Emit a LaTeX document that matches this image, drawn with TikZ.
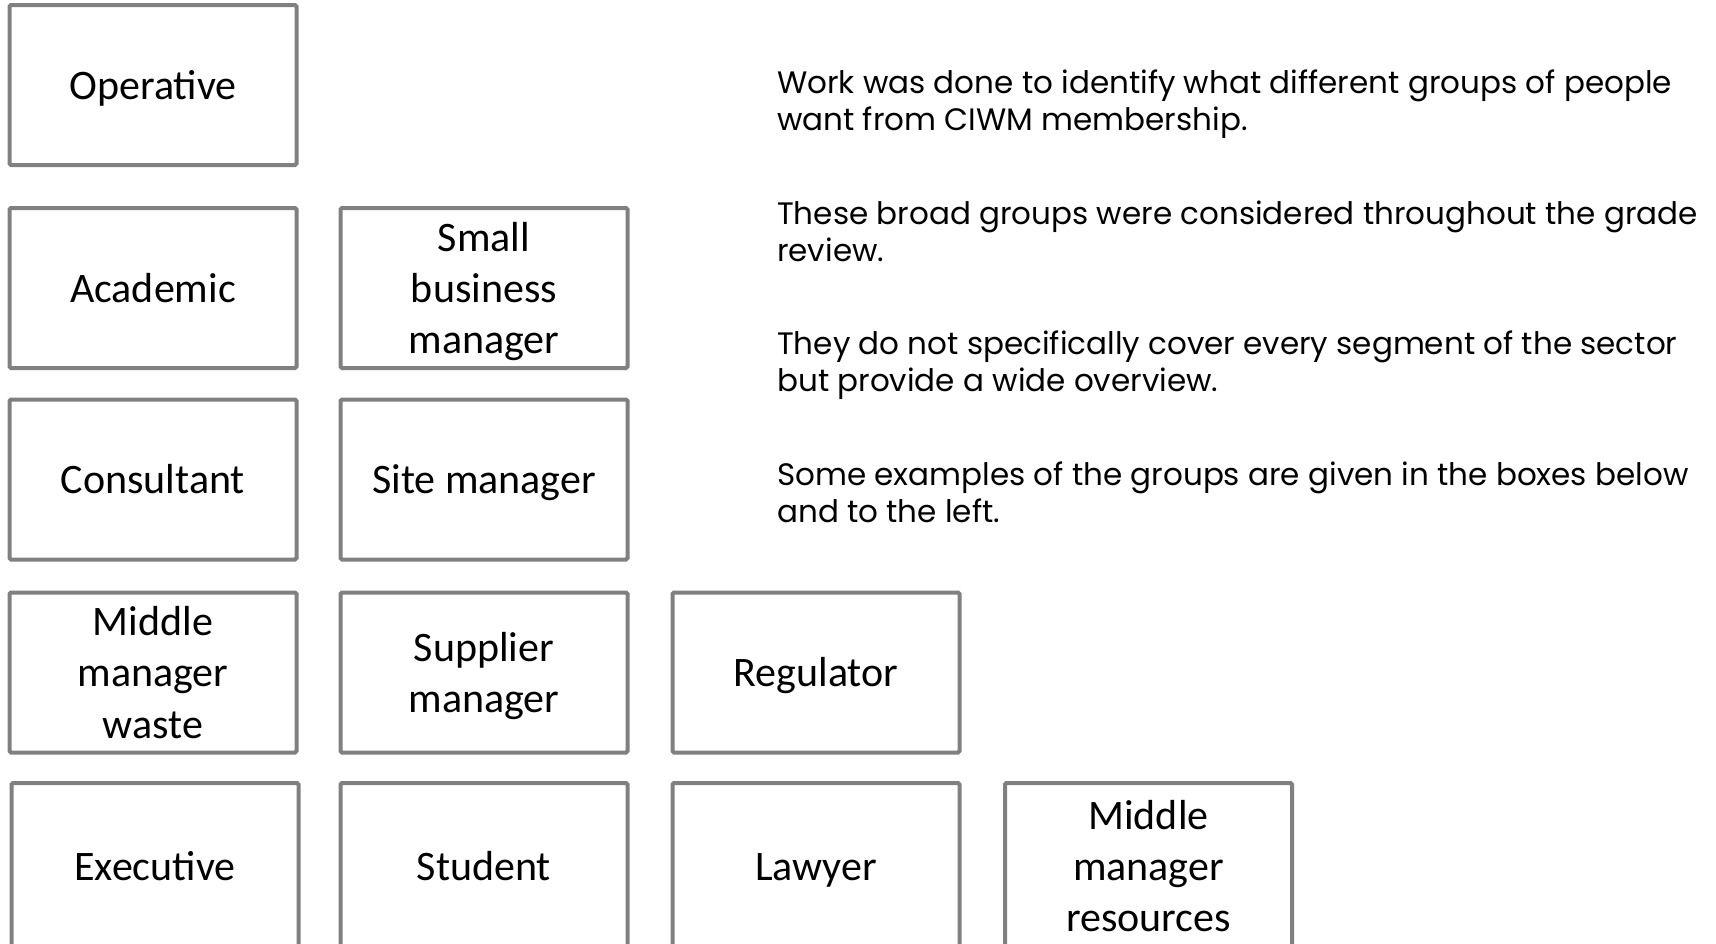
\documentclass[tikz,border=0pt]{standalone}
\usepackage{fontspec}
\setmainfont{Carlito}
\newfontfamily\notefont{Poppins}
\definecolor{boxgray}{RGB}{128,128,128}
\newcommand\boxstrut{\rule[-0.269em]{0pt}{1.221em}}
\begin{document}
\begin{tikzpicture}[x=1pt,y=-1pt,
  grp/.style={draw=boxgray,line width=4pt,rounded corners=1.5pt,fill=white,
    minimum width=287pt,minimum height=160pt,align=center,inner sep=0pt,
    font=\fontsize{42}{51.3}\selectfont,
    execute at begin node=\boxstrut,execute at end node=\boxstrut},
  lastrow/.style={minimum height=166pt},
  note/.style={anchor=base west,align=left,inner sep=0pt,
    font=\notefont\fontsize{31}{37}\selectfont}]
  \useasboundingbox (0,0) rectangle (1716,943);
  \clip (0,0) rectangle (1716,943);
  % first column
  \node (operative) at (153,85) [grp] {Operative};
  \node (academic) at (153,288) [grp] {Academic};
  \node (consultant) at (153,479.5) [grp] {Consultant};
  \node (middlewaste) at (153,672.5) [grp] {\boxstrut Middle\\manager\\waste};
  \node (executive) at (155,866) [grp,lastrow] {Executive};
  % second column
  \node (smallbiz) at (484,288) [grp] {\boxstrut Small\\business\\manager};
  \node (sitemgr) at (484,479.5) [grp] {Site manager};
  \node (supplier) at (484,672.5) [grp] {\boxstrut Supplier\\manager};
  \node (student) at (484,866) [grp,lastrow] {Student};
  % third and fourth column
  \node (regulator) at (816,672.5) [grp] {Regulator};
  \node (lawyer) at (816,866) [grp,lastrow] {Lawyer};
  \node (middleres) at (1148.5,866) [grp,lastrow] {\boxstrut Middle\\manager\\resources};
  % notes on the right (placed by the baseline of their last line)
  \node (note1) at (777,130) [note] {Work was done to identify what different groups of people\\want from CIWM membership.};
  \node (note2) at (777,261) [note] {These broad groups were considered throughout the grade\\review.};
  \node (note3) at (777,391) [note] {They do not specifically cover every segment of the sector\\but provide a wide overview.};
  \node (note4) at (777,522) [note] {Some examples of the groups are given in the boxes below\\and to the left.};
\end{tikzpicture}
\end{document}
